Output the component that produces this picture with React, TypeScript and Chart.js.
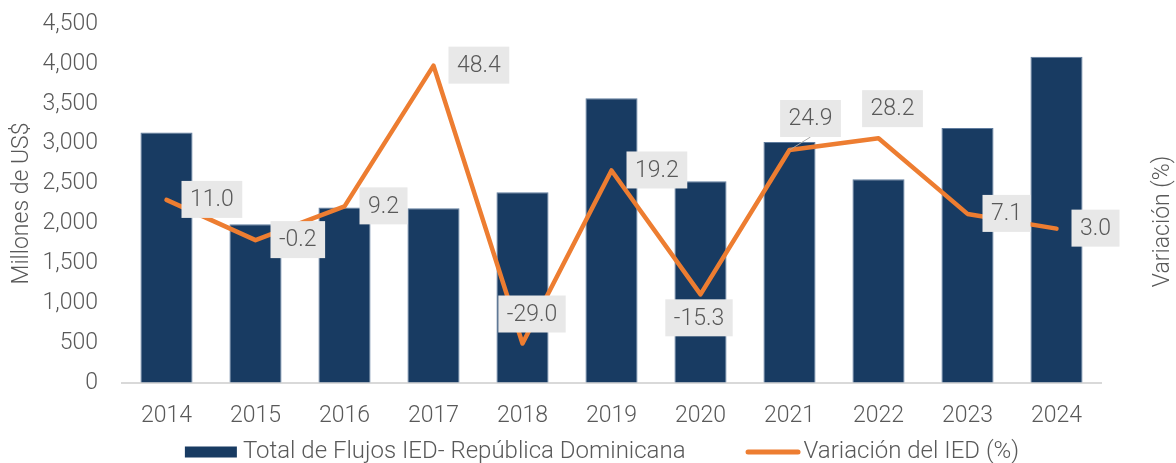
import React, { useEffect, useRef } from "react";
import { Chart, registerables } from "chart.js";

Chart.register(...registerables);

// ---- Data ----
const years: string[] = ["2014", "2015", "2016", "2017", "2018", "2019", "2020", "2021", "2022", "2023", "2024"];
const flows: number[] = [3140, 1990, 2200, 2190, 2390, 3570, 2530, 3020, 2555, 3195, 4090];
const variation: number[] = [11.0, -0.2, 9.2, 48.4, -29.0, 19.2, -15.3, 24.9, 28.2, 7.1, 3.0];
const leftTicks: number[] = [0, 500, 1000, 1500, 2000, 2500, 3000, 3500, 4000, 4500];

const barLabel = "Total de Flujos IED- República Dominicana";
const lineLabel = "Variación del IED (%)";
const leftTitle = "Millones de US$";
const rightTitle = "Variación (%)";

// label placement: "right" of the point, or [dx, dy] offset of the box centre
const labelPlacement: (string | number[])[] = [
  "right", "right", "right", "right", [9.5, -29.5], "right", [-1.5, 23.5], [21, -31.5], [14, -29.5], "right", "right",
];
const leaderIndex = 7;

// ---- Styles ----
const NAVY = "#183B62";
const ORANGE = "#ED7D31";
const TEXT = "#595959";
const FONT = "Roboto";
const TICK_SIZE = 23;
const LABEL_SIZE = 23;
const TITLE_SIZE = 23;
const LEGEND_SIZE = 24;

const overlayPlugin = {
  id: "overlay",
  afterDatasetsDraw(chart: any) {
    const ctx = chart.ctx as CanvasRenderingContext2D;
    const meta = chart.getDatasetMeta(1);
    ctx.save();
    ctx.font = `300 ${LABEL_SIZE}px ${FONT}`;
    ctx.textAlign = "center";
    ctx.textBaseline = "middle";
    meta.data.forEach((pt: any, i: number) => {
      const text = variation[i].toFixed(1);
      const w = ctx.measureText(text).width + 17;
      const h = 37;
      const place = labelPlacement[i];
      let cx: number, cy: number;
      if (place === "right") {
        cx = pt.x + 15 + w / 2;
        cy = pt.y - 0.5;
      } else {
        const p = place as number[];
        cx = pt.x + p[0];
        cy = pt.y + p[1];
      }
      if (i === leaderIndex) {
        ctx.strokeStyle = "#A6A6A6";
        ctx.lineWidth = 1;
        ctx.beginPath();
        ctx.moveTo(pt.x, pt.y);
        ctx.lineTo(cx, cy + h / 2);
        ctx.stroke();
      }
      ctx.fillStyle = "#E8E8E8";
      ctx.fillRect(cx - w / 2, cy - h / 2, w, h);
      ctx.fillStyle = TEXT;
      ctx.fillText(text, cx, cy + 1);
    });
    ctx.restore();
  },
  afterDraw(chart: any) {
    const ctx = chart.ctx as CanvasRenderingContext2D;
    const area = chart.chartArea;
    const midY = (area.top + area.bottom) / 2;
    ctx.save();
    // axis titles
    ctx.fillStyle = TEXT;
    ctx.font = `300 ${TITLE_SIZE}px ${FONT}`;
    ctx.textAlign = "center";
    ctx.textBaseline = "middle";
    ctx.save();
    ctx.translate(22, midY);
    ctx.rotate(-Math.PI / 2);
    ctx.fillText(leftTitle, 0, 0);
    ctx.restore();
    ctx.save();
    ctx.translate(1163, midY + 18);
    ctx.rotate(-Math.PI / 2);
    ctx.fillText(rightTitle, 0, 0);
    ctx.restore();

    // legend
    ctx.font = `300 ${LEGEND_SIZE}px ${FONT}`;
    ctx.textAlign = "left";
    const t1 = ctx.measureText(barLabel).width;
    const t2 = ctx.measureText(lineLabel).width;
    const total = 52 + 6 + t1 + 60 + 55 + 3 + t2;
    let x = chart.width / 2 + 14 - total / 2;
    const y = 452;
    ctx.fillStyle = NAVY;
    ctx.fillRect(x, y - 5.5, 52, 11);
    x += 58;
    ctx.fillStyle = TEXT;
    ctx.fillText(barLabel, x, y);
    x += t1 + 60;
    ctx.strokeStyle = ORANGE;
    ctx.lineWidth = 5;
    ctx.lineCap = "round";
    ctx.beginPath();
    ctx.moveTo(x + 2.5, y);
    ctx.lineTo(x + 52.5, y);
    ctx.stroke();
    x += 58;
    ctx.fillText(lineLabel, x, y);
    ctx.restore();
  },
};

export default function App() {
  const canvasRef = useRef<HTMLCanvasElement | null>(null);

  useEffect(() => {
    document.body.style.margin = "0";
    const canvas = canvasRef.current;
    if (!canvas) return;
    const chart = new Chart(canvas, {
      type: "bar",
      data: {
        labels: years,
        datasets: [
          {
            type: "bar",
            label: barLabel,
            data: flows,
            backgroundColor: NAVY,
            borderColor: "#5F7C9E",
            borderWidth: 1,
            yAxisID: "y",
            order: 2,
            categoryPercentage: 1,
            barPercentage: 0.585,
          },
          {
            type: "line",
            label: lineLabel,
            data: variation,
            borderColor: ORANGE,
            backgroundColor: ORANGE,
            borderWidth: 4.5,
            pointRadius: 0,
            tension: 0,
            borderCapStyle: "round",
            borderJoinStyle: "round",
            yAxisID: "y1",
            order: 1,
          } as any,
        ],
      },
      options: {
        animation: false,
        responsive: true,
        maintainAspectRatio: false,
        layout: { padding: { top: 24, right: 75, left: 0, bottom: 0 } },
        plugins: {
          legend: { display: false },
          tooltip: { enabled: false },
        },
        scales: {
          x: {
            grid: { display: false, drawTicks: false },
            border: { display: true, color: "#D9D9D9", width: 2 },
            ticks: {
              color: TEXT,
              font: { family: FONT, size: TICK_SIZE, weight: "300" as any },
              padding: 19,
              maxRotation: 0,
            },
            afterFit: (s: any) => {
              s.height = 80;
            },
          },
          y: {
            position: "left",
            min: 0,
            max: 4500,
            afterBuildTicks: (s: any) => {
              s.ticks = leftTicks.map((v) => ({ value: v }));
            },
            grid: {
              display: true,
              drawOnChartArea: false,
              drawTicks: true,
              tickLength: 21,
              color: "rgba(0,0,0,0)",
              tickColor: "rgba(0,0,0,0)",
            },
            border: { display: false },
            ticks: {
              color: TEXT,
              font: { family: FONT, size: TICK_SIZE, weight: "300" as any },
              padding: 3,
              callback: (v: any) => Number(v).toLocaleString("en-US"),
            },
            afterFit: (s: any) => {
              s.width = 122;
            },
          },
          y1: {
            position: "right",
            display: false,
            min: -40,
            max: 60,
            grid: { display: false },
          },
        },
      },
      plugins: [overlayPlugin],
    });
    return () => chart.destroy();
  }, []);

  return (
    <div style={{ width: "1176px", height: "463px", position: "relative" }}>
      <canvas ref={canvasRef} />
    </div>
  );
}
